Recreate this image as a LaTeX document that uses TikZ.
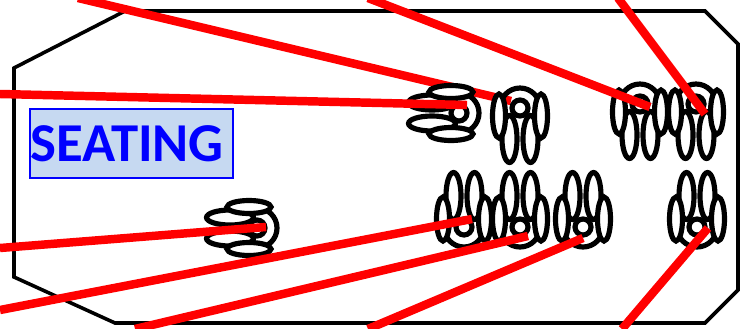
\documentclass[tikz,border=0pt]{standalone}
\usepackage{fontspec}
\setmainfont{Carlito}
\usepackage{xcolor}
\definecolor{Label}{HTML}{C6D9F1}
\definecolor{Ink}{HTML}{0000FF}
\definecolor{Ray}{HTML}{FF0000}
\tikzset{
  wall/.style={draw=black,line width=3.6pt,line join=miter},
  seatline/.style={draw=black,line width=5.2pt,fill=white},
  ray/.style={draw=Ray,line width=8.5pt},
  tag/.style={draw=Ink,fill=Label,line width=1.2pt,text=Ink,font=\bfseries\fontsize{55}{55}\selectfont,minimum width=203bp,minimum height=69bp,inner sep=0pt},
  seat/.pic={
    \draw[seatline] (-10.5bp,\seatfar) ellipse [x radius=7.5bp,y radius=23.5bp];
    \draw[seatline] (10.5bp,\seatfar) ellipse [x radius=7.5bp,y radius=23.5bp];
    \draw[seatline] (0,0) circle [radius=8bp];
    \draw[seatline,fill=none] (-20bp,0) arc [start angle=180,end angle=360,radius=20bp];
    \draw[seatline] (-21bp,8bp) ellipse [x radius=6.5bp,y radius=22bp];
    \draw[seatline] (21bp,8bp) ellipse [x radius=6.5bp,y radius=22bp];
  }
}
\newcommand{\seatfar}{31bp}
\begin{document}
\begin{tikzpicture}[x=1bp,y=-1bp]
\useasboundingbox (0,0) rectangle (740,328);
\draw[wall] (125,11)--(705,11)--(738,44)--(738,290)--(705,323)--(115,323)--(14,277)--(14,68)--cycle;
\node[tag] (seating) at (131.5,143.5) {SEATING\kern9bp};
\coordinate (r1) at (78,-2);\coordinate (h1) at (511,101);
\draw[ray] (r1)--(h1);
\renewcommand{\seatfar}{27bp}
\pic at (459,113) [rotate=90] {seat};
\pic at (257,228) [rotate=90] {seat};
\renewcommand{\seatfar}{31bp}
\pic (a) at (520,108) [rotate=180] {seat};
\pic (b) at (640,104) [rotate=180] {seat};
\pic (c) at (696,104) [rotate=180] {seat};
\pic (d) at (464,227) {seat};
\pic (e) at (520,227) {seat};
\pic (f) at (583,227) {seat};
\pic (g) at (697,227) {seat};
\coordinate (r2) at (0,94);\coordinate (h2) at (467,105);
\coordinate (r3) at (368,-2);\coordinate (h3) at (650,107);
\coordinate (r4) at (618,-2);\coordinate (h4) at (705,114);
\coordinate (r5) at (0,248);\coordinate (h5) at (266,227);
\coordinate (r6) at (0,310);\coordinate (h6) at (472,219);
\coordinate (r7) at (135,329);\coordinate (h7) at (528,236);
\coordinate (r8) at (368,329);\coordinate (h8) at (583,238);
\coordinate (r9) at (622,329);\coordinate (h9) at (708,228);
\foreach \n in {2,...,9}{\draw[ray] (r\n)--(h\n);}
\end{tikzpicture}
\end{document}
